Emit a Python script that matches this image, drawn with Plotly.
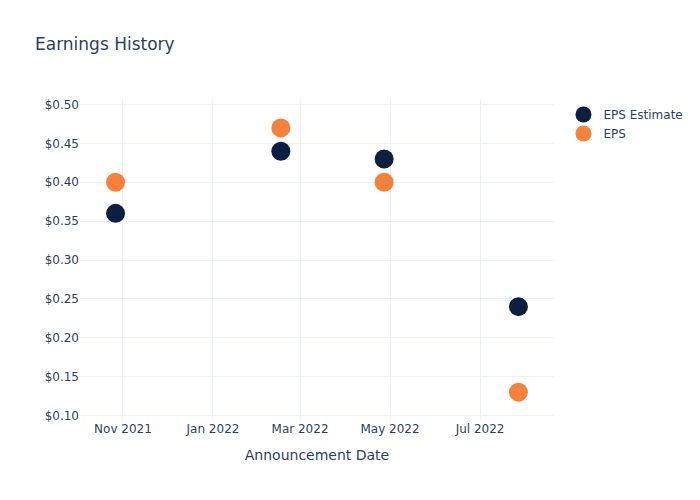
import plotly.graph_objects as go

dates = ["2021-10-27", "2022-02-16", "2022-04-27", "2022-07-27"]
eps_estimate = [0.36, 0.44, 0.43, 0.24]
eps_actual = [0.40, 0.47, 0.40, 0.13]

fig = go.Figure()
fig.add_trace(go.Scatter(x=dates, y=eps_estimate, mode="markers", name="EPS Estimate",
                         marker=dict(size=19, color="#0c1f40")))
fig.add_trace(go.Scatter(x=dates, y=eps_actual, mode="markers", name="EPS",
                         marker=dict(size=19, color="#f5813a")))

fig.update_layout(
    template="plotly_white",
    width=700, height=500,
    font=dict(family="DejaVu Sans", color="#2a3f5f"),
    title=dict(text="Earnings History", x=0.05, y=0.924, font=dict(size=17)),
    xaxis=dict(title=dict(text="Announcement Date"), tickformat="%b %Y", dtick="M2",
               tickfont=dict(size=12)),
    yaxis=dict(tickprefix="$", tickformat=".2f", dtick=0.05, tickfont=dict(size=12)),
    legend=dict(font=dict(size=12)),
)
fig.write_html("out.html")
